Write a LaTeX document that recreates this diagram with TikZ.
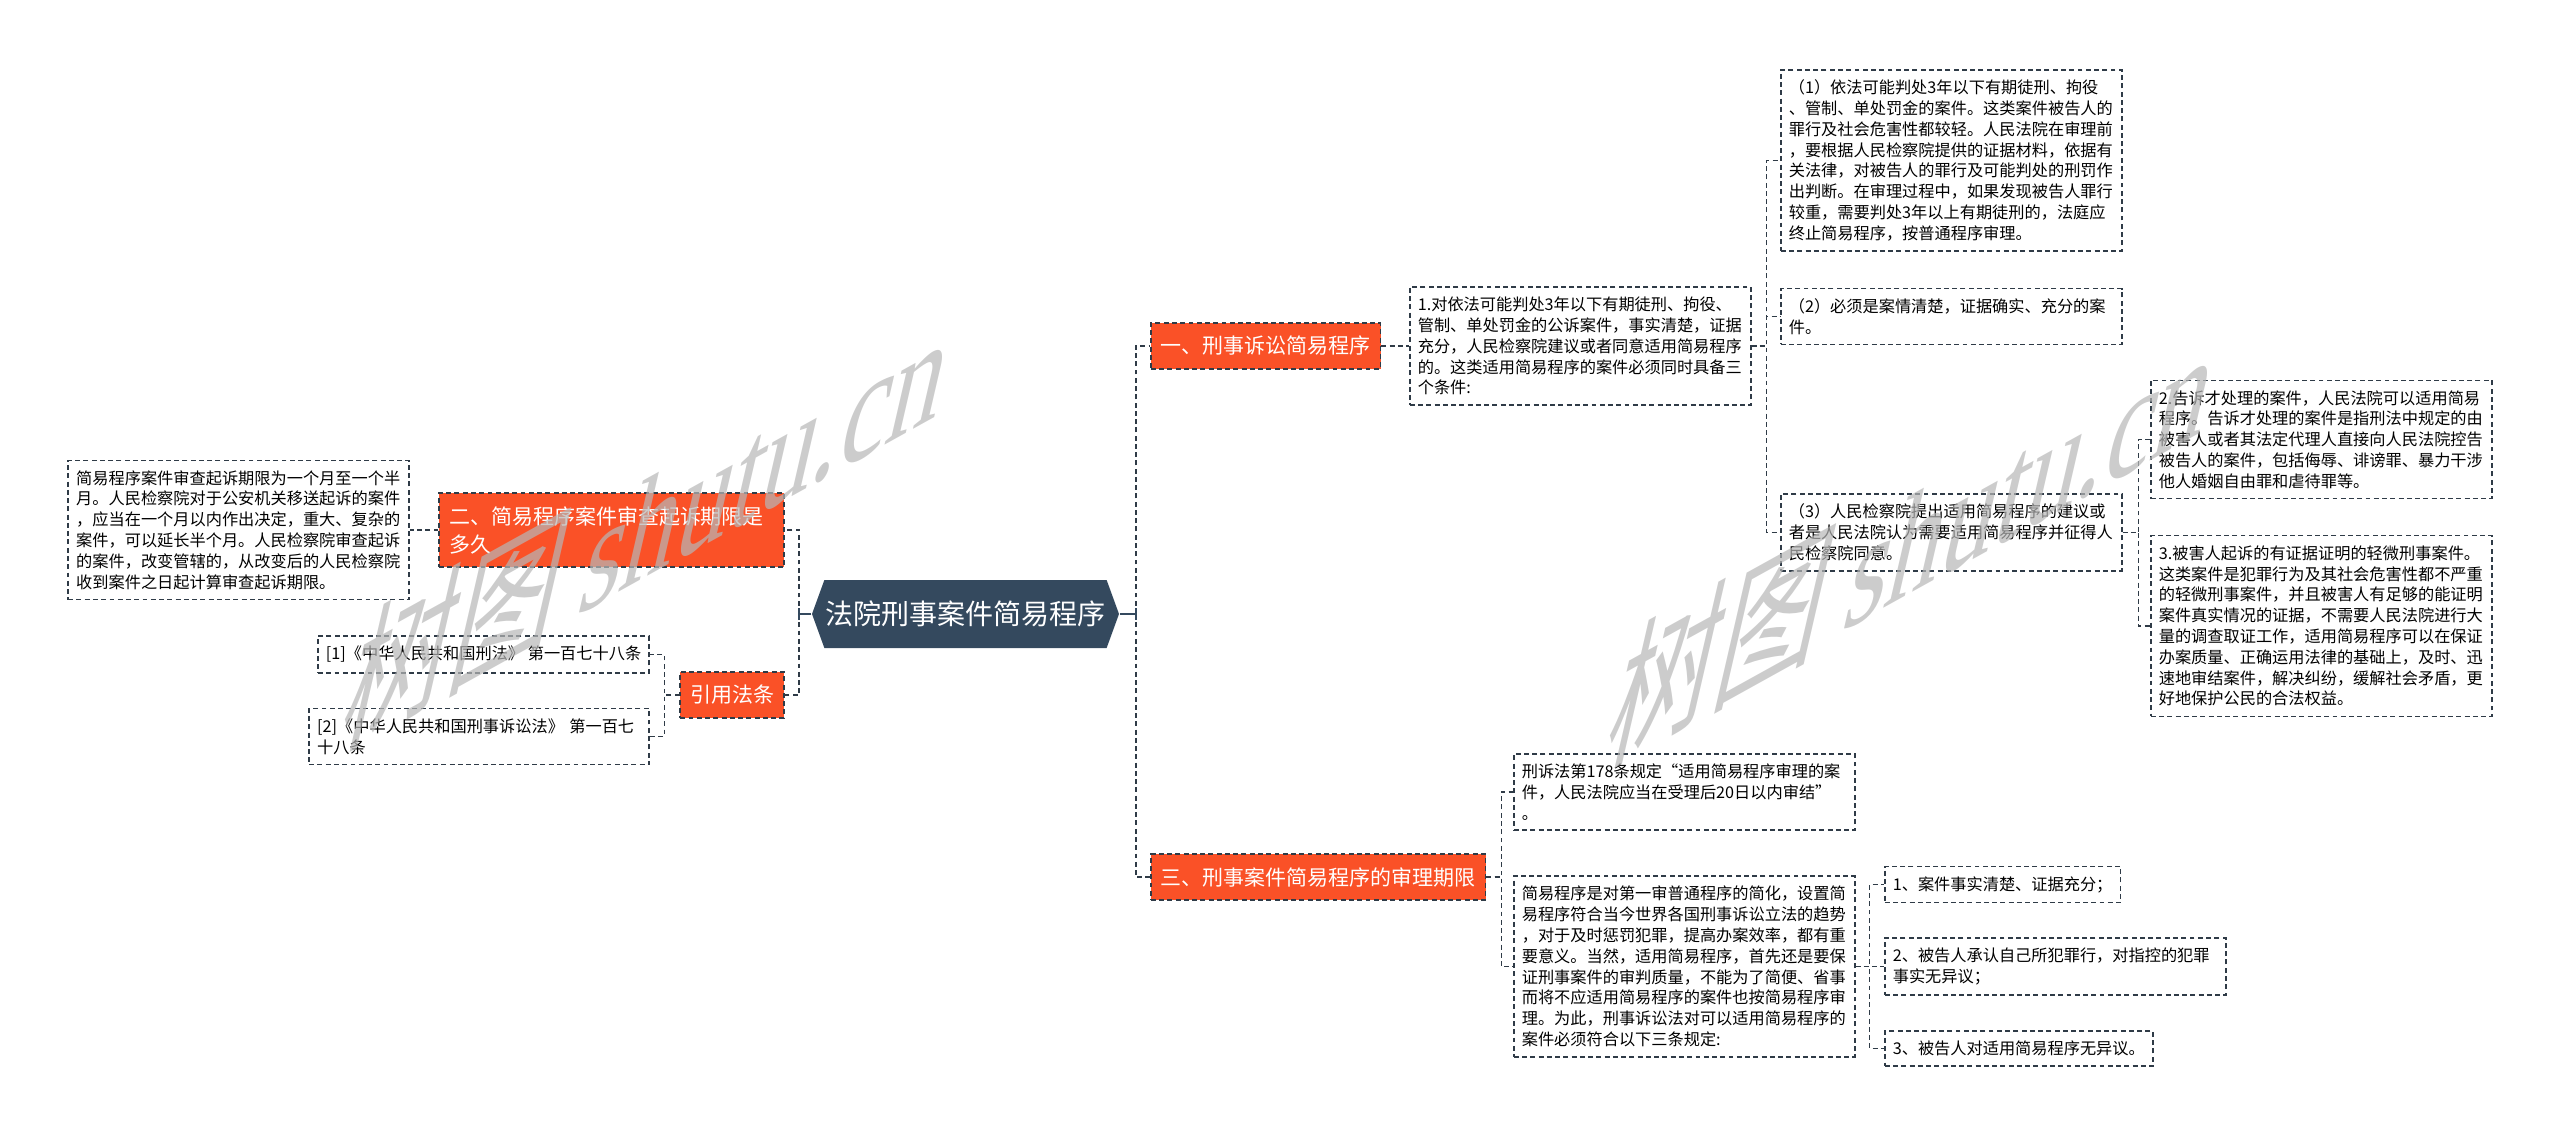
\documentclass[tikz,border=0pt]{standalone}
\usepackage{fontspec}
\setmainfont{Noto Sans CJK SC}
\newfontfamily\wmlatin{Liberation Serif}
\usetikzlibrary{shapes.symbols}

\definecolor{topicred}{HTML}{FA5127}
\definecolor{rootblue}{HTML}{34495E}
\definecolor{linegray}{HTML}{2F3B47}
\definecolor{wmgray}{RGB}{183,183,183}

\newcommand\leaffont{\fontsize{4.61pt}{5.92pt}\selectfont}
\newcommand\topicfont{\fontsize{5.97pt}{7.97pt}\selectfont}
\newcommand\rootfont{\fontsize{7.97pt}{9pt}\selectfont}
\newcommand\wmfont{\fontsize{35pt}{38pt}\selectfont}

\tikzset{
  dashline/.style={draw=linegray,line width=.45pt,dash pattern=on 1.4pt off .95pt},
  conn/.style={dashline},
  rootlink/.style={draw=rootblue,line width=.6pt},
  leafbox/.style={dashline,fill=white,align=left,inner xsep=.08cm,inner ysep=.1cm,font=\leaffont},
  notebox/.style={leafbox,text width=3.25cm},
  topicbox/.style={dashline,fill=topicred,text=white,inner xsep=.1cm,inner ysep=.13cm,font=\topicfont},
  rootbox/.style={signal,signal to=east and west,signal pointer angle=140,fill=rootblue,text=white,font=\rootfont,minimum width=3.07cm,minimum height=.68cm,inner sep=0pt},
  wmark/.style={rotate=29,xslant=.9,text=wmgray,text opacity=.7,font=\wmfont}
}

\begin{document}
\begin{tikzpicture}
\useasboundingbox (0,0) rectangle (25.60,-11.37);

\node(root)[rootbox] at (9.655,-6.14) {法院刑事案件简易程序};

% main branches
\node(b1)[topicbox,anchor=west] at (11.50,-3.46) {一、刑事诉讼简易程序};
\node(b3)[topicbox,anchor=west] at (11.50,-8.77) {三、刑事案件简易程序的审理期限};
\node(b2)[topicbox,anchor=east,text width=3.25cm,align=left] at (7.85,-5.30) {二、简易程序案件审查起诉期限是\\多久};
\node(cite)[topicbox,anchor=east] at (7.85,-6.95) {引用法条};

% branch 1
\node(a0)[notebox,anchor=west] at (14.09,-3.46) {1.对依法可能判处3年以下有期徒刑、拘役、\\管制、单处罚金的公诉案件，事实清楚，证据\\充分，人民检察院建议或者同意适用简易程序\\的。这类适用简易程序的案件必须同时具备三\\个条件:};
\node(a1)[notebox,anchor=west] at (17.80,-1.605) {（1）依法可能判处3年以下有期徒刑、拘役\\、管制、单处罚金的案件。这类案件被告人的\\罪行及社会危害性都较轻。人民法院在审理前\\，要根据人民检察院提供的证据材料，依据有\\关法律，对被告人的罪行及可能判处的刑罚作\\出判断。在审理过程中，如果发现被告人罪行\\较重，需要判处3年以上有期徒刑的，法庭应\\终止简易程序，按普通程序审理。};
\node(a2)[notebox,anchor=west] at (17.80,-3.165) {（2）必须是案情清楚，证据确实、充分的案\\件。};
\node(a3)[notebox,anchor=west] at (17.80,-5.325) {（3）人民检察院提出适用简易程序的建议或\\者是人民法院认为需要适用简易程序并征得人\\民检察院同意。};
\node(a31)[notebox,anchor=west] at (21.50,-4.395) {2.告诉才处理的案件，人民法院可以适用简易\\程序。告诉才处理的案件是指刑法中规定的由\\被害人或者其法定代理人直接向人民法院控告\\被告人的案件，包括侮辱、诽谤罪、暴力干涉\\他人婚姻自由罪和虐待罪等。};
\node(a32)[notebox,anchor=west] at (21.50,-6.26) {3.被害人起诉的有证据证明的轻微刑事案件。\\这类案件是犯罪行为及其社会危害性都不严重\\的轻微刑事案件，并且被害人有足够的能证明\\案件真实情况的证据，不需要人民法院进行大\\量的调查取证工作，适用简易程序可以在保证\\办案质量、正确运用法律的基础上，及时、迅\\速地审结案件，解决纠纷，缓解社会矛盾，更\\好地保护公民的合法权益。};

% branch 3
\node(d1)[notebox,anchor=west] at (15.13,-7.92) {刑诉法第178条规定“适用简易程序审理的案\\件，人民法院应当在受理后20日以内审结”\\。};
\node(d2)[notebox,anchor=west] at (15.13,-9.665) {简易程序是对第一审普通程序的简化，设置简\\易程序符合当今世界各国刑事诉讼立法的趋势\\，对于及时惩罚犯罪，提高办案效率，都有重\\要意义。当然，适用简易程序，首先还是要保\\证刑事案件的审判质量，不能为了简便、省事\\而将不应适用简易程序的案件也按简易程序审\\理。为此，刑事诉讼法对可以适用简易程序的\\案件必须符合以下三条规定:};
\node(e1)[leafbox,anchor=west] at (18.84,-8.845) {1、案件事实清楚、证据充分；};
\node(e2)[notebox,anchor=west] at (18.84,-9.665) {2、被告人承认自己所犯罪行，对指控的犯罪\\事实无异议；};
\node(e3)[leafbox,anchor=west] at (18.84,-10.485) {3、被告人对适用简易程序无异议。};

% branch 2 and citations
\node(lt)[notebox,anchor=east] at (4.10,-5.30) {简易程序案件审查起诉期限为一个月至一个半\\月。人民检察院对于公安机关移送起诉的案件\\，应当在一个月以内作出决定，重大、复杂的\\案件，可以延长半个月。人民检察院审查起诉\\的案件，改变管辖的，从改变后的人民检察院\\收到案件之日起计算审查起诉期限。};
\node(c1)[leafbox,anchor=east] at (6.50,-6.545) {[1]《中华人民共和国刑法》 第一百七十八条};
\node(c2)[leafbox,anchor=east,text width=3.24cm] at (6.50,-7.365) {[2]《中华人民共和国刑事诉讼法》 第一百七\\十八条};

% connectors
\draw[conn] (root.east) ++(.16,0) |- (b1.west);
\draw[conn] (root.east) ++(.16,0) |- (b3.west);
\draw[conn] (root.west) ++(-.12,0) |- (b2.east);
\draw[conn] (root.west) ++(-.12,0) |- (cite.east);
\draw[rootlink] (root.east) -- ++(.16,0) ++(0,.06) -- ++(0,-.12);
\draw[rootlink] (root.west) -- ++(-.12,0) ++(0,.06) -- ++(0,-.12);

\draw[conn] (b1.east) -- (a0.west);
\draw[conn] (a0.east) -- ++(.15,0) |- (a1.west);
\draw[conn] (a0.east) -- ++(.15,0) |- (a2.west);
\draw[conn] (a0.east) -- ++(.15,0) |- (a3.west);
\draw[conn] (a3.east) -- ++(.16,0) |- (a31.west);
\draw[conn] (a3.east) -- ++(.16,0) |- (a32.west);

\draw[conn] (b3.east) -- ++(.15,0) |- (d1.west);
\draw[conn] (b3.east) -- ++(.15,0) |- (d2.west);
\draw[conn] (d2.east) -- ++(.14,0) |- (e1.west);
\draw[conn] (d2.east) -- ++(.14,0) |- (e2.west);
\draw[conn] (d2.east) -- ++(.14,0) |- (e3.west);

\draw[conn] (b2.west) -- (lt.east);
\draw[conn] (cite.west) -- ++(-.15,0) |- (c1.east);
\draw[conn] (cite.west) -- ++(-.15,0) |- (c2.east);

% watermark
\node(wm1)[wmark] at (6.50,-5.22) {树图 {\wmlatin shutu.cn}};
\node(wm2)[wmark] at (19.15,-5.38) {树图 {\wmlatin shutu.cn}};
\end{tikzpicture}
\end{document}
